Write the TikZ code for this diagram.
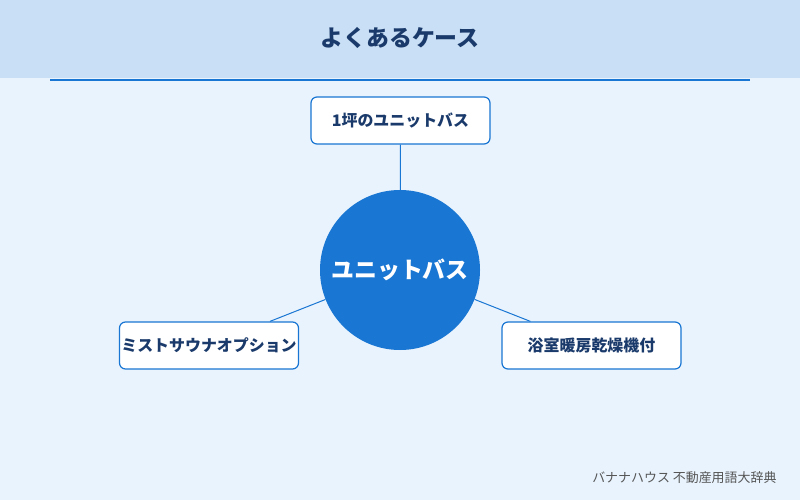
\documentclass[tikz,border=0pt]{standalone}
\usepackage{fontspec}
\setmainfont{Noto Sans CJK JP}
\newfontfamily\jpb{Noto Sans CJK JP}[BoldFont={* Bold}]
\definecolor{bg}{HTML}{E8F3FE}
\definecolor{hd}{HTML}{C9DFF5}
\definecolor{bl}{HTML}{1976D2}
\definecolor{nv}{HTML}{1A3A6B}
\definecolor{gr}{HTML}{555555}
\begin{document}
\begin{tikzpicture}[x=1bp,y=-1bp,
  box/.style={draw=bl,line width=1.2bp,fill=white,rounded corners=6bp,minimum width=179bp,minimum height=47bp,inner sep=0pt,font=\fontsize{16}{18}\selectfont\bfseries,text=nv},
  conn/.style={draw=bl,line width=1bp}]
\fill[bg] (0,0) rectangle (800,500);
\useasboundingbox (0,0) rectangle (800,500);
\fill[hd] (0,0) rectangle (800,78);
\node[font=\fontsize{23}{26}\selectfont\bfseries,text=nv] (title) at (400,38) {よくあるケース};
\draw[bl,line width=1.5bp] (50,80) -- (750,80);
\node[circle,fill=bl,minimum size=160bp,inner sep=0pt,font=\fontsize{23}{26}\selectfont\bfseries,text=white] (c) at (400,270) {ユニットバス};
\node[box] (t) at (400.5,120.5) {1坪のユニットバス};
\node[box] (l) at (209,345.5) {};
\node[font=\fontsize{16}{18}\selectfont\bfseries,text=nv] (lt) at (209,345.5) {ミストサウナオプション};
\node[box] (r) at (591.5,345.5) {浴室暖房乾燥機付};
\draw[conn] (t) -- (c);
\draw[conn] (l) -- (c);
\draw[conn] (r) -- (c);
\node[anchor=east,font=\fontsize{13}{15}\selectfont,text=gr] (f) at (780,478) {バナナハウス 不動産用語大辞典};
\end{tikzpicture}
\end{document}
